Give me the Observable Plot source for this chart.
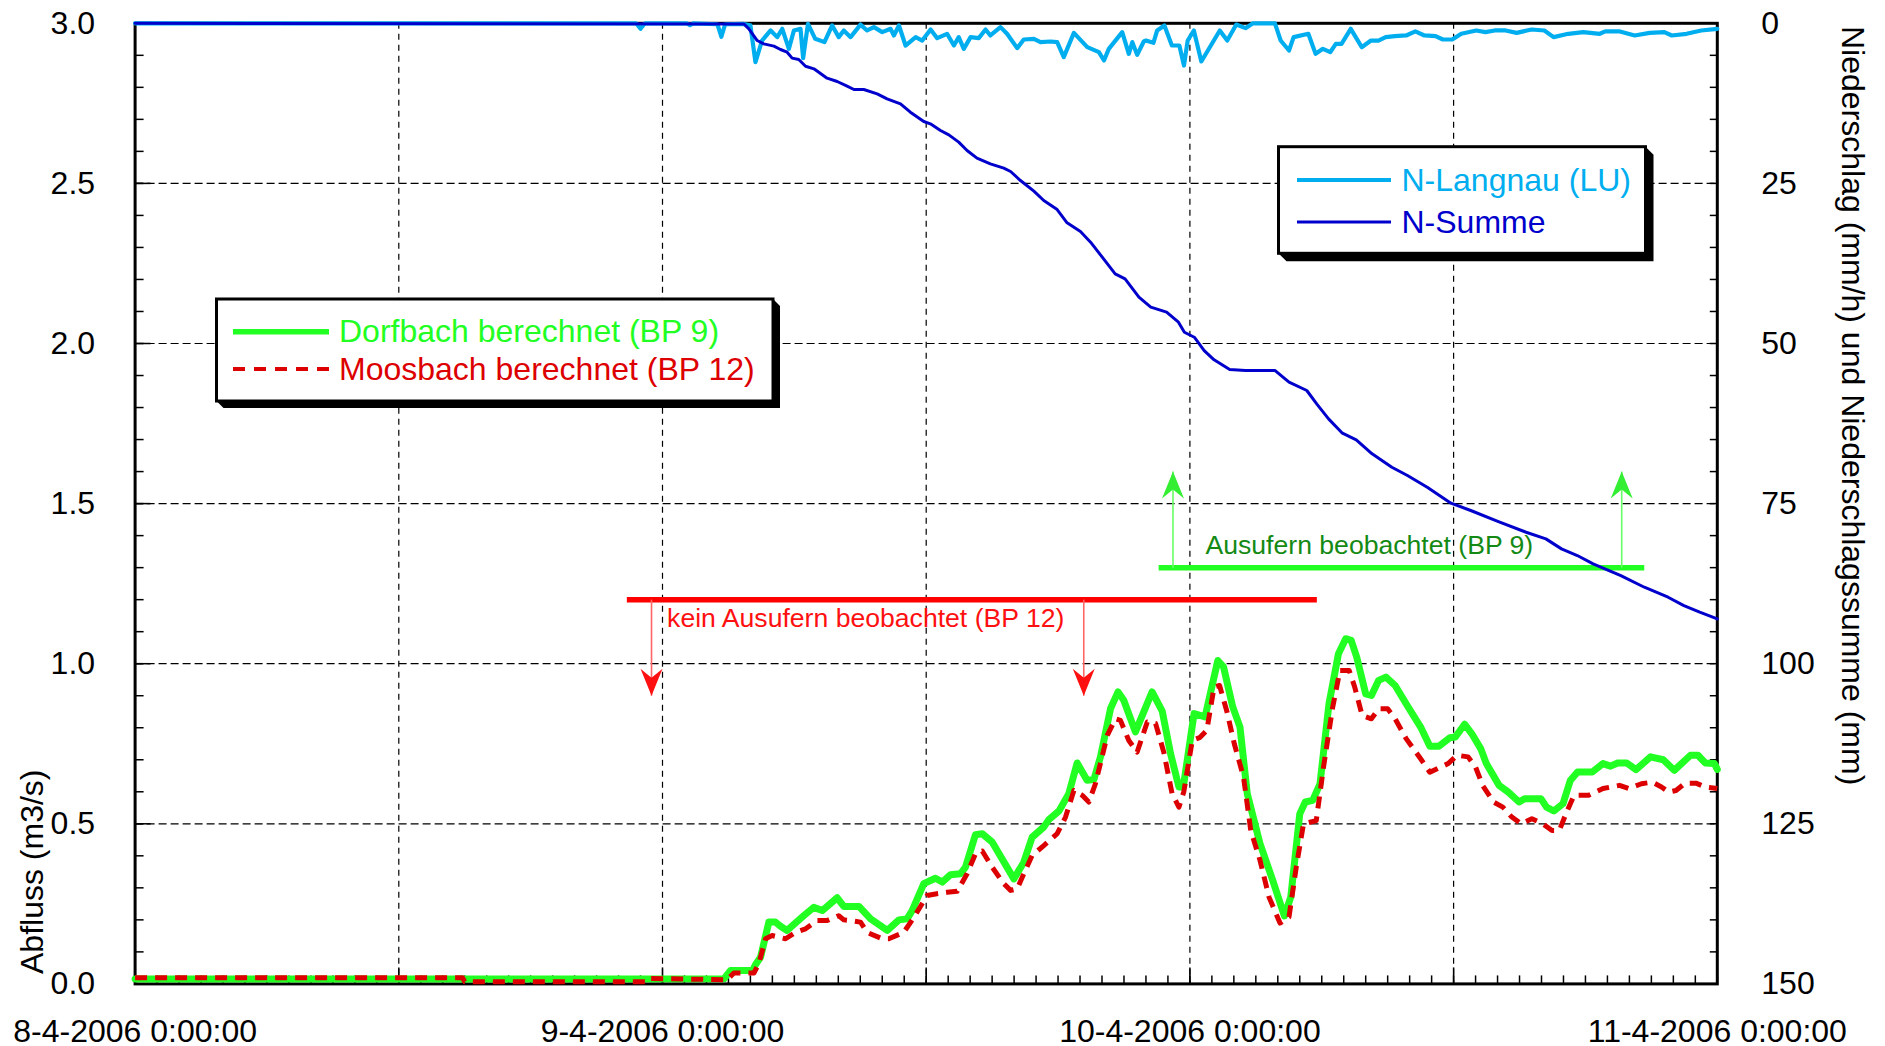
<!DOCTYPE html>
<html>
<head>
<meta charset="utf-8">
<script src="https://cdn.jsdelivr.net/npm/d3@7"></script>
<script src="https://cdn.jsdelivr.net/npm/@observablehq/plot@0.6"></script>
<style>
  html, body { margin: 0; padding: 0; background: #fff; overflow: hidden; }
</style>
</head>
<body>
<div id="chart"></div>
<script>
// ---------------- DATA (hours after 8-4-2006 0:00, value) ----------------
// Abfluss Dorfbach berechnet (BP 9), m3/s
const dorfbach = [[0,0.015],[26.8,0.016],[27.1,0.042],[28.1,0.042],[28.23,0.06],[28.46,0.083],[28.84,0.193],[29.14,0.193],[29.37,0.18],[29.67,0.167],[30.43,0.213],[30.88,0.239],[31.27,0.229],[31.95,0.269],[32.25,0.242],[32.94,0.242],[33.47,0.203],[34.23,0.167],[34.76,0.2],[35.13,0.203],[35.36,0.229],[35.89,0.313],[36.42,0.33],[36.73,0.318],[37.11,0.341],[37.56,0.344],[37.79,0.365],[38.24,0.466],[38.55,0.469],[39.0,0.443],[39.99,0.328],[40.44,0.38],[40.82,0.458],[41.35,0.49],[41.58,0.513],[42.04,0.54],[42.49,0.594],[42.87,0.69],[43.32,0.636],[43.63,0.638],[43.93,0.709],[44.39,0.86],[44.73,0.912],[44.99,0.886],[45.52,0.787],[46.28,0.912],[46.74,0.852],[47.12,0.719],[47.5,0.615],[47.7,0.615],[48.19,0.844],[48.69,0.834],[49.27,1.01],[49.53,0.99],[49.95,0.865],[50.28,0.802],[50.61,0.594],[51.19,0.438],[51.77,0.323],[52.3,0.212],[52.59,0.271],[53.0,0.531],[53.25,0.568],[53.59,0.573],[53.92,0.625],[54.33,0.875],[54.76,1.031],[55.09,1.078],[55.34,1.073],[55.59,1.021],[56.0,0.906],[56.26,0.901],[56.59,0.948],[56.92,0.958],[57.34,0.932],[57.84,0.875],[58.5,0.802],[58.92,0.742],[59.33,0.742],[59.83,0.769],[60.08,0.771],[60.5,0.811],[60.83,0.781],[61.24,0.734],[61.49,0.688],[62.07,0.62],[62.49,0.599],[62.98,0.568],[63.23,0.578],[63.98,0.578],[64.23,0.552],[64.56,0.54],[64.98,0.563],[65.31,0.635],[65.64,0.662],[66.31,0.662],[66.8,0.688],[67.14,0.68],[67.47,0.69],[67.88,0.69],[68.3,0.669],[68.96,0.709],[69.54,0.7],[70.04,0.667],[70.78,0.714],[71.12,0.714],[71.45,0.69],[71.87,0.688],[72,0.67]];

// Abfluss Moosbach berechnet (BP 12), m3/s
const moosbach = [[0,0.019],[14.9,0.019],[15.0,0.007],[23.2,0.007],[23.3,0.017],[26.94,0.013],[27.25,0.034],[28.16,0.034],[28.38,0.063],[28.69,0.141],[28.99,0.151],[29.6,0.141],[30.05,0.161],[30.51,0.172],[31.04,0.198],[31.49,0.198],[32.02,0.213],[32.25,0.2],[32.55,0.198],[33.01,0.193],[33.31,0.161],[33.99,0.141],[34.3,0.141],[34.98,0.161],[35.44,0.208],[36.04,0.276],[36.42,0.281],[36.95,0.286],[37.41,0.289],[37.86,0.344],[38.24,0.406],[38.55,0.415],[39.0,0.365],[39.53,0.313],[39.84,0.292],[40.14,0.297],[40.44,0.344],[40.82,0.401],[41.35,0.432],[41.96,0.469],[42.34,0.521],[42.72,0.604],[43.1,0.589],[43.4,0.568],[43.7,0.625],[44.24,0.776],[44.61,0.828],[44.84,0.823],[45.22,0.76],[45.6,0.724],[46.06,0.818],[46.44,0.813],[46.81,0.724],[47.19,0.594],[47.5,0.552],[47.72,0.599],[48.11,0.761],[48.44,0.769],[48.77,0.792],[49.1,0.927],[49.35,0.932],[49.69,0.849],[50.02,0.75],[50.44,0.646],[50.77,0.479],[51.19,0.386],[51.6,0.271],[52.1,0.19],[52.51,0.209],[52.84,0.365],[53.17,0.5],[53.75,0.51],[54.08,0.677],[54.5,0.865],[54.83,0.979],[55.25,0.979],[55.5,0.927],[55.84,0.838],[56.26,0.828],[56.59,0.859],[57.0,0.859],[57.34,0.828],[57.84,0.766],[58.5,0.703],[58.92,0.661],[59.75,0.688],[60.16,0.714],[60.66,0.709],[61.0,0.677],[61.32,0.62],[61.82,0.568],[62.24,0.552],[62.65,0.521],[63.07,0.5],[63.56,0.516],[64.06,0.5],[64.48,0.479],[64.81,0.479],[65.14,0.536],[65.48,0.589],[66.14,0.589],[66.8,0.61],[67.55,0.62],[67.97,0.61],[68.55,0.625],[69.04,0.63],[69.46,0.615],[69.79,0.599],[70.12,0.604],[70.54,0.627],[71.03,0.627],[71.45,0.615],[72,0.61]];

// Niederschlag N-Langnau (LU), mm/h (right axis)
const nLangnau = [[0,0],[22.8,0],[23.0,0.86],[23.2,0],[25.1,0],[25.25,0.3],[25.4,0],[26.5,0.15],[26.68,2.1],[26.85,0.15],[27.7,0.1],[28.0,0.3],[28.23,6.07],[28.53,2.69],[28.92,1.12],[29.22,2.16],[29.45,0.86],[29.75,3.99],[29.98,1.12],[30.28,0.86],[30.4,5.44],[30.62,0.08],[30.95,2.42],[31.37,2.94],[31.72,0.34],[32.02,2.16],[32.25,1.12],[32.56,2.16],[33.01,0.2],[33.31,1.12],[33.62,0.6],[34.0,1.38],[34.38,0.86],[34.53,1.9],[34.76,0.34],[35.06,3.47],[35.52,2.16],[35.82,2.69],[36.2,0.97],[36.5,2.32],[36.95,1.64],[37.26,3.47],[37.48,2.16],[37.71,3.99],[38.02,2.16],[38.39,2.32],[38.7,0.97],[38.92,1.9],[39.38,0.6],[39.68,1.64],[40.14,3.88],[40.44,2.53],[40.9,2.42],[41.2,2.94],[41.66,2.84],[41.96,2.94],[42.26,5.29],[42.72,1.49],[43.33,3.73],[43.86,4.51],[44.09,5.81],[44.31,3.99],[44.92,1.38],[45.22,4.77],[45.38,2.94],[45.6,4.93],[45.9,2.84],[46.0,2.69],[46.34,3.05],[46.51,1.12],[46.84,0.34],[47.18,3.47],[47.52,3.47],[47.73,6.59],[47.9,2.69],[48.18,1.12],[48.52,5.96],[49.36,1.12],[49.7,2.69],[50.11,0.2],[50.53,0.76],[50.87,0],[51.87,0],[52.13,2.69],[52.51,4.25],[52.72,2.16],[53.39,1.64],[53.72,4.77],[54.05,3.99],[54.39,4.51],[54.64,3.21],[54.9,3.21],[55.32,0.86],[55.82,3.73],[56.24,2.69],[56.58,2.69],[56.91,2.16],[57.33,2.0],[57.84,1.9],[58.26,1.27],[58.67,1.9],[59.18,2.0],[59.51,2.53],[59.94,2.53],[60.35,1.64],[61.03,1.12],[61.45,1.38],[61.87,1.12],[62.37,1.12],[62.87,1.49],[63.55,0.97],[64.13,1.12],[64.55,2.16],[65.22,1.64],[65.9,1.38],[66.65,1.64],[66.9,1.27],[67.57,1.27],[68.24,1.9],[68.92,1.49],[69.59,1.38],[69.93,1.9],[70.6,1.64],[71.27,1.12],[72,0.86]];

// Niederschlagssumme N-Summe, mm (right axis)
const nSumme = [[0,0],[27.7,0.1],[27.93,0.86],[28.31,2.69],[28.61,3.21],[29.07,3.57],[29.37,4.09],[29.67,4.51],[29.9,5.44],[30.2,5.65],[30.51,6.7],[30.89,7.11],[31.49,8.57],[31.95,9.09],[32.4,9.82],[32.71,10.34],[33.16,10.34],[33.77,11.01],[34.22,11.79],[34.83,12.57],[35.28,13.88],[35.89,15.34],[36.19,15.7],[36.65,16.74],[37.03,17.42],[37.48,18.56],[37.86,19.86],[38.31,21.06],[38.92,21.94],[39.53,22.62],[39.84,23.14],[40.29,24.55],[40.9,26.21],[41.35,27.67],[41.96,29.08],[42.41,31.16],[43.02,32.52],[43.48,34.18],[43.93,36.16],[44.6,39.12],[45.05,39.9],[45.68,42.77],[46.22,44.33],[46.94,45.11],[47.48,46.67],[47.75,48.24],[48.2,49.02],[48.65,51.1],[49.1,52.55],[49.81,54.07],[50.53,54.22],[51.88,54.22],[52.51,56.04],[53.32,57.34],[53.77,59.43],[54.31,61.77],[54.94,64.01],[55.57,65.05],[56.29,67.23],[57.19,69.32],[57.9,70.62],[58.8,72.44],[59.88,74.94],[60.78,76.08],[62.04,77.8],[63.3,79.47],[64.2,80.51],[64.91,82.07],[65.63,83.11],[66.35,84.41],[67.61,86.24],[68.68,88.06],[69.76,89.62],[70.48,90.92],[71.2,91.96],[72,93.0]];

// Observations (hours, level in m3/s)
const bp12Span = [22.4, 53.8];     // kein Ausufern beobachtet (BP 12)
const bp12Level = 1.2;
const bp12ArrowTimes = [23.5, 43.17];
const bp12ArrowTip = 0.9;
const bp9Span = [46.6, 68.7];      // Ausufern beobachtet (BP 9)
const bp9Level = 1.3;
const bp9ArrowTimes = [47.23, 67.65];
const bp9ArrowTip = 1.6;

// Texts
const bp12Label = "kein Ausufern beobachtet (BP 12)";
const bp9Label = "Ausufern beobachtet (BP 9)";
const leftTitle = "Abfluss (m3/s)";
const rightTitle = "Niederschlag (mm/h) und Niederschlagssumme (mm)";
const legendQ = ["Dorfbach berechnet (BP 9)", "Moosbach berechnet (BP 12)"];
const legendN = ["N-Langnau (LU)", "N-Summe"];

// Ticks
const leftTickValues = [0, 0.5, 1, 1.5, 2, 2.5, 3];
const rightTickValues = [0, 25, 50, 75, 100, 125, 150];
const dayTickHours = [0, 24, 48, 72];

// ---------------- helpers ----------------
const T0 = Date.UTC(2006, 3, 8);
const toDate = h => new Date(T0 + h * 3600e3);
const mmToQ = mm => 3 - mm / 50; // right axis 0..150 (top->bottom) onto left 3..0
const toRows = (arr, conv = v => v) => arr.map(([h, v]) => ({t: toDate(h), v: conv(v)}));

const fmtDate = d => `${d.getUTCDate()}-${d.getUTCMonth() + 1}-${d.getUTCFullYear()} ${d.getUTCHours()}:${String(d.getUTCMinutes()).padStart(2, "0")}:${String(d.getUTCSeconds()).padStart(2, "0")}`;

const hourTicks = d3.range(0, 73).map(toDate);
const halfDayTicks = d3.range(0, 73, 12).map(toDate);
const gridXTicks = [12, 24, 36, 48, 60].map(toDate);
const yMinor = d3.range(0, 31).map(i => i / 10);
const yMajor = leftTickValues;

// arrowheads (tip at origin)
const headDown = {draw(ctx) { ctx.moveTo(0, 0); ctx.lineTo(-11, -27); ctx.lineTo(0, -18); ctx.lineTo(11, -27); ctx.closePath(); }};
const headUp = {draw(ctx) { ctx.moveTo(0, 0); ctx.lineTo(-11, 27); ctx.lineTo(0, 18); ctx.lineTo(11, 27); ctx.closePath(); }};

const bp12Arrows = bp12ArrowTimes.map(h => ({t: toDate(h), from: bp12Level, to: bp12ArrowTip}));
const bp9Arrows = bp9ArrowTimes.map(h => ({t: toDate(h), from: bp9Level, to: bp9ArrowTip}));

const FONT = "'Liberation Sans', Arial, Helvetica, sans-serif";

const plot = Plot.plot({
  width: 1885,
  height: 1046,
  marginLeft: 134.6,
  marginRight: 168.2,
  marginTop: 22.8,
  marginBottom: 62.6,
  x: {type: "utc", domain: [toDate(0), toDate(72)], label: null},
  y: {domain: [0, 3], label: null},
  style: {fontFamily: FONT, fontSize: "32px", color: "#000", background: "#fff", overflow: "visible"},
  marks: [
    Plot.gridY(yMajor.filter(v => v > 0 && v < 3), {stroke: "#000", strokeOpacity: 1, strokeWidth: 1.2, strokeDasharray: "8,4"}),
    Plot.gridX(gridXTicks, {stroke: "#000", strokeOpacity: 1, strokeWidth: 1.2, strokeDasharray: "6,5"}),

    // left axis
    Plot.axisY(yMajor, {anchor: "left", tickSize: 0, tickPadding: 40, tickFormat: d3.format(".1f"), label: null}),
    Plot.axisY(yMinor, {anchor: "left", tickSize: 9, dx: 9, strokeWidth: 1.5, tickFormat: () => "", label: null}),
    Plot.axisY(yMajor, {anchor: "left", tickSize: 16, dx: 16, strokeWidth: 1.5, tickFormat: () => "", label: null}),
    // right axis
    Plot.axisY(rightTickValues.map(mmToQ), {anchor: "right", tickSize: 0, tickPadding: 44, tickFormat: q => String(Math.round((3 - q) * 50)), label: null}),
    Plot.axisY(yMinor, {anchor: "right", tickSize: 8, dx: -8, strokeWidth: 1.5, tickFormat: () => "", label: null}),
    // bottom axis
    Plot.axisX(dayTickHours.map(toDate), {anchor: "bottom", tickSize: 0, tickPadding: 35, tickFormat: fmtDate, label: null}),
    Plot.axisX(hourTicks, {anchor: "bottom", tickSize: 8, dy: -8, strokeWidth: 1.5, tickFormat: () => "", label: null}),
    Plot.axisX(halfDayTicks, {anchor: "bottom", tickSize: 16, dy: -16, strokeWidth: 1.5, tickFormat: () => "", label: null}),

    Plot.frame({stroke: "#000", strokeWidth: 3}),

    // observation bars
    Plot.ruleY([{y: bp12Level, x1: toDate(bp12Span[0]), x2: toDate(bp12Span[1])}], {y: "y", x1: "x1", x2: "x2", stroke: "#ff0000", strokeWidth: 5.5}),
    Plot.ruleY([{y: bp9Level, x1: toDate(bp9Span[0]), x2: toDate(bp9Span[1])}], {y: "y", x1: "x1", x2: "x2", stroke: "#22ff22", strokeWidth: 5.5}),

    // precipitation
    Plot.line(toRows(nLangnau, mmToQ), {x: "t", y: "v", stroke: "#00aeef", strokeWidth: 4.2}),
    Plot.line(toRows(nSumme, mmToQ), {x: "t", y: "v", stroke: "#0000cc", strokeWidth: 3}),

    // discharge
    Plot.line(toRows(dorfbach), {x: "t", y: "v", stroke: "#22ff22", strokeWidth: 7}),
    Plot.line(toRows(moosbach), {x: "t", y: "v", stroke: "#dd0000", strokeWidth: 5, strokeDasharray: "12,8", strokeLinecap: "butt"}),

    // arrows
    Plot.link(bp12Arrows, {x1: "t", x2: "t", y1: "from", y2: "to", stroke: "#ff6666", strokeWidth: 1.6}),
    Plot.dot(bp12Arrows, {x: "t", y: "to", symbol: headDown, fill: "#ff1010", stroke: "none"}),
    Plot.link(bp9Arrows, {x1: "t", x2: "t", y1: "from", y2: "to", stroke: "#66ff66", strokeWidth: 1.6}),
    Plot.dot(bp9Arrows, {x: "t", y: "to", symbol: headUp, fill: "#33ee33", stroke: "none"}),

    // annotation labels
    Plot.text([{t: toDate(24.21), q: 1.14, s: bp12Label}], {x: "t", y: "q", text: "s", textAnchor: "start", fill: "#ff1010", fontSize: 26.6}),
    Plot.text([{t: toDate(48.71), q: 1.368, s: bp9Label}], {x: "t", y: "q", text: "s", textAnchor: "start", fill: "#148a14", fontSize: 26.6})
  ]
});

document.getElementById("chart").appendChild(plot);

// ---------------- axis titles & legends ----------------
const svg = d3.select(plot);

svg.append("text")
  .attr("transform", "translate(43,974) rotate(-90)")
  .attr("text-anchor", "start")
  .attr("font-family", FONT).attr("font-size", 32).attr("fill", "#000")
  .text(leftTitle);

svg.append("text")
  .attr("transform", "translate(1842,26) rotate(90)")
  .attr("text-anchor", "start")
  .attr("font-family", FONT).attr("font-size", 32).attr("fill", "#000")
  .text(rightTitle);

function legendBox(box, items) {
  const {x, y, w, h, s} = box;
  const g = svg.append("g");
  g.append("path")
    .attr("d", `M${x},${y + h}L${x + s},${y + h + s}L${x + w + s},${y + h + s}L${x + w + s},${y + s}L${x + w},${y}Z`)
    .attr("fill", "#000");
  g.append("rect").attr("x", x).attr("y", y).attr("width", w).attr("height", h)
    .attr("fill", "#fff").attr("stroke", "#000").attr("stroke-width", 3);
  for (const it of items) {
    g.append("line").attr("x1", it.x1).attr("x2", it.x2).attr("y1", it.ly).attr("y2", it.ly)
      .attr("stroke", it.color).attr("stroke-width", it.width)
      .attr("stroke-dasharray", it.dash || null);
    g.append("text").attr("x", it.tx).attr("y", it.ty)
      .attr("text-anchor", "start")
      .attr("font-family", FONT).attr("font-size", 32).attr("fill", it.color)
      .text(it.label);
  }
}

legendBox({x: 216.5, y: 299, w: 556.5, h: 102, s: 7}, [
  {x1: 233, x2: 329, ly: 331.7, color: "#22ff22", width: 5.5, tx: 339, ty: 342, label: legendQ[0]},
  {x1: 233, x2: 329, ly: 369, color: "#dd0000", width: 4, dash: "12,9", tx: 339, ty: 380, label: legendQ[1]}
]);

legendBox({x: 1278.5, y: 146.7, w: 367, h: 106.6, s: 8}, [
  {x1: 1297, x2: 1391, ly: 180, color: "#00aeef", width: 4, tx: 1401.5, ty: 191, label: legendN[0]},
  {x1: 1297, x2: 1391, ly: 222, color: "#0000cc", width: 3, tx: 1401.5, ty: 233.3, label: legendN[1]}
]);
</script>
</body>
</html>
